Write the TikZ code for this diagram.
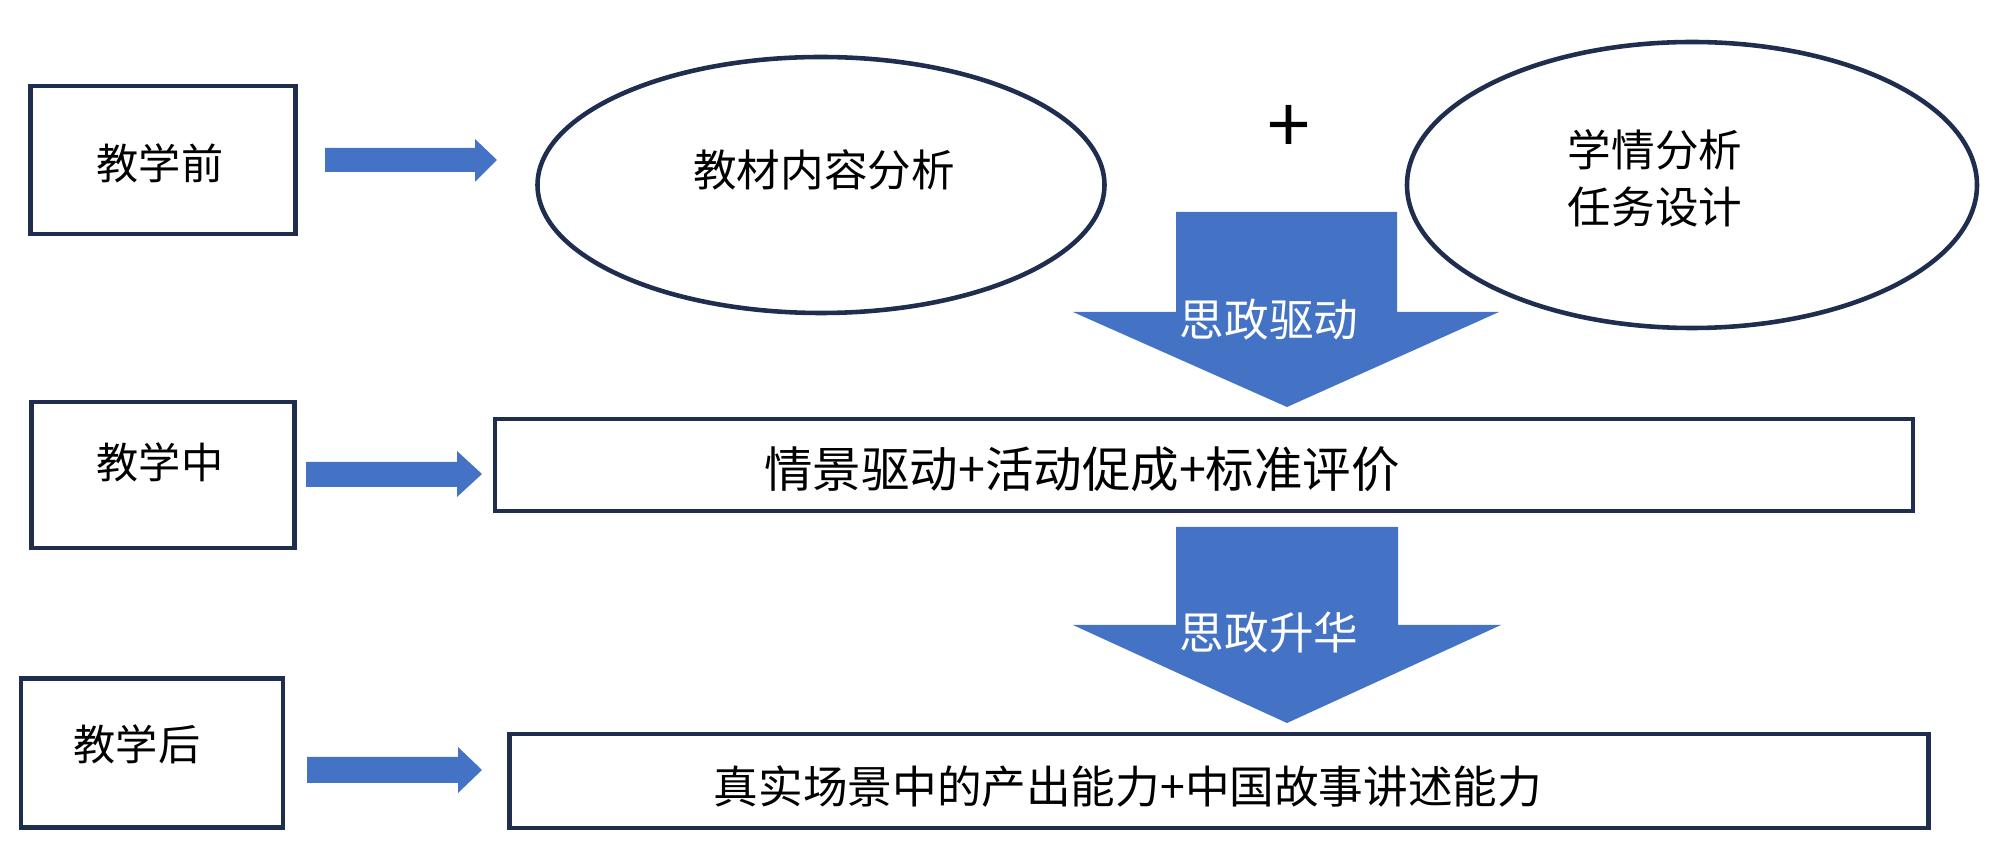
\documentclass[tikz,border=0pt]{standalone}
\usepackage{fontspec}
\newfontfamily\cjk{Noto Sans CJK SC}
\usetikzlibrary{shapes.geometric}
\definecolor{navy}{HTML}{1F2D4E}
\definecolor{arrowblue}{HTML}{4472C4}
\tikzset{
  stagebox/.style={draw=navy, line width=1.3pt, fill=white, rectangle, inner sep=0pt},
  oval/.style={draw=navy, line width=1.3pt, ellipse, inner sep=0pt},
  txt/.style={font=\cjk\fontsize{12pt}{16pt}\selectfont, text=black, inner sep=0pt, align=center},
  wtxt/.style={font=\cjk\fontsize{12.7pt}{16pt}\selectfont, text=white, inner sep=0pt},
  blockarrow/.style={fill=arrowblue, draw=none}
}
\begin{document}
\begin{tikzpicture}[x=0.1mm, y=-0.1mm]
\useasboundingbox (0,0) rectangle (2000,860);

% stage boxes
\node[stagebox, minimum width=26.5mm, minimum height=14.8mm] (pre) at (163,160) {};
\node[txt] (pretxt) at (160,163) {教学前};
\node[stagebox, minimum width=26.3mm, minimum height=14.6mm] (mid) at (163,475) {};
\node[txt] (midtxt) at (160,462) {教学中};
\node[stagebox, minimum width=26.2mm, minimum height=14.9mm] (post) at (152,753) {};
\node[txt] (posttxt) at (137,744) {教学后};

% ellipses
\node[oval, minimum width=56.7mm, minimum height=25.6mm] (e1) at (821,185) {};
\node[txt, font=\cjk\fontsize{12.4pt}{16pt}\selectfont] (e1txt) at (824,170) {教材内容分析};
\node[oval, minimum width=57mm, minimum height=28.6mm] (e2) at (1692,185) {};
\node[txt, font=\cjk\fontsize{12.4pt}{16.2pt}\selectfont] (e2txt) at (1655,178) {学情分析\\任务设计};
\node[font=\cjk\fontsize{22pt}{24pt}\selectfont, inner sep=0pt] (plus) at (1289,129) {+};

% wide boxes
\node[stagebox, minimum width=141.8mm, minimum height=9.2mm] (act) at (1204,465) {};
\node[txt, font=\cjk\fontsize{13.8pt}{16pt}\selectfont] (acttxt) at (1082,469) {情景驱动+活动促成+标准评价};
\node[stagebox, minimum width=141.9mm, minimum height=9.4mm] (out) at (1219,781) {};
\node[txt, font=\cjk\fontsize{12.7pt}{16pt}\selectfont] (outtxt) at (1128,787) {真实场景中的产出能力+中国故事讲述能力};

% horizontal block arrows
\fill[blockarrow] (325,148) -- (475,148) -- (475,139) -- (497,160) -- (475,182) -- (475,172) -- (325,172) -- cycle;
\fill[blockarrow] (306,462) -- (457,462) -- (457,451) -- (482,474) -- (457,497) -- (457,487) -- (306,487) -- cycle;
\fill[blockarrow] (307,757) -- (458,757) -- (458,747) -- (482,770) -- (458,793) -- (458,783) -- (307,783) -- cycle;

% down block arrows
\fill[blockarrow] (1176,212) -- (1397,212) -- (1397,312) -- (1499,312) -- (1287,407) -- (1073,312) -- (1176,312) -- cycle;
\node[wtxt] (d1txt) at (1269,320) {思政驱动};
\fill[blockarrow] (1176,527) -- (1398,527) -- (1398,625) -- (1501,625) -- (1287,723) -- (1073,625) -- (1176,625) -- cycle;
\node[wtxt] (d2txt) at (1269,633) {思政升华};
\end{tikzpicture}
\end{document}
